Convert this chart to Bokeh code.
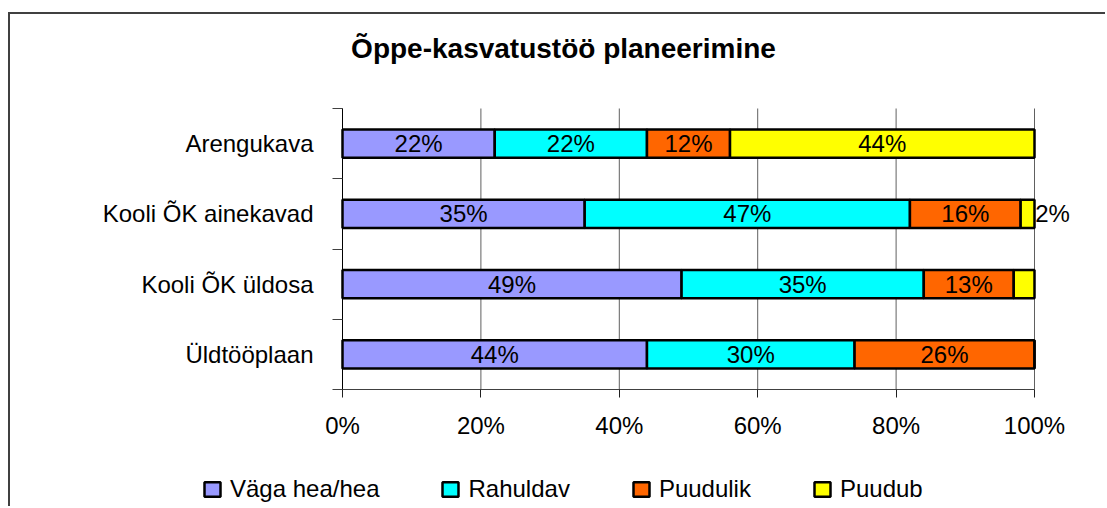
from bokeh.plotting import figure
from bokeh.models import (Range1d, FixedTicker, ColumnDataSource, LabelSet, Label,
                          Legend, LegendItem, PrintfTickFormatter)
from bokeh.core.properties import value
from bokeh.embed import file_html
from bokeh.resources import INLINE

# ---------------- data ----------------
title_text = "Õppe-kasvatustöö planeerimine"
categories = ["Arengukava", "Kooli ÕK ainekavad", "Kooli ÕK üldosa", "Üldtööplaan"]
series_names = ["Väga hea/hea", "Rahuldav", "Puudulik", "Puudub"]
vaga_hea = [22, 35, 49, 44]
rahuldav = [22, 47, 35, 30]
puudulik = [12, 16, 13, 26]
puudub = [44, 2, 3, 0]
vaga_hea_labels = ["22%", "35%", "49%", "44%"]
rahuldav_labels = ["22%", "47%", "35%", "30%"]
puudulik_labels = ["12%", "16%", "13%", "26%"]
puudub_labels = ["44%", "2%", "", ""]
x_ticks = [0, 20, 40, 60, 80, 100]

# ---------------- layout (pixels on the page) ----------------
CANVAS_L, CANVAS_T, CANVAS_W, CANVAS_H = 10, 14, 1097, 494
PLOT_L, PLOT_R, PLOT_T, PLOT_B = 342, 1034, 108, 389
TITLE_CX, TITLE_CY = 563, 48

colors = ["#9999FF", "#00FFFF", "#FF6600", "#FFFF00"]
FONT = "Liberation Sans"
FS = "24px"
keys = ["vaga", "rahuldav", "puudulik", "puudub"]
values = [vaga_hea, rahuldav, puudulik, puudub]
labels = [vaga_hea_labels, rahuldav_labels, puudulik_labels, puudub_labels]

n = len(categories)
xmax = x_ticks[-1]
ypos = [n - 0.5 - i for i in range(n)]
bounds = [float(i) for i in range(n + 1)]

xs = (PLOT_R - PLOT_L) / xmax          # px per x unit
ys = (PLOT_B - PLOT_T) / n             # px per y unit
x0 = (CANVAS_L - PLOT_L) / xs
x1 = (CANVAS_L + CANVAS_W - PLOT_L) / xs
y0 = -(CANVAS_T + CANVAS_H - PLOT_B) / ys
y1 = n + (PLOT_T - CANVAS_T) / ys

data = {"y": ypos}
for k, v in zip(keys, values):
    data[k] = v
source = ColumnDataSource(data)

p = figure(width=CANVAS_W, height=CANVAS_H, output_backend="svg", toolbar_location=None,
           x_range=Range1d(x0, x1), y_range=Range1d(y0, y1),
           min_border=0)
p.styles = {"margin-top": "12px", "margin-left": "8px",
            "border-top": "2px solid #404040", "border-left": "2px solid #404040"}
p.outline_line_color = None
p.background_fill_color = "white"
p.border_fill_color = "white"
p.xgrid.visible = False
p.ygrid.visible = False

# vertical gridlines inside the plot area
p.segment(x0=x_ticks, y0=[0] * len(x_ticks), x1=x_ticks, y1=[n] * len(x_ticks),
          line_color="#606060", line_width=1)

renderers = p.hbar_stack(keys, y="y", height=0.4, fill_color=colors, line_color="black",
                         line_width=2.5, source=source)

# label positions from cumulative sums
lx, ly, lt, lo = [], [], [], []
for ci in range(n):
    start = 0
    for si in range(len(keys)):
        v = values[si][ci]
        txt = labels[si][ci]
        if txt:
            lx.append(start + v / 2)
            ly.append(ypos[ci])
            lt.append(txt)
            lo.append(25 if v < 5 else 0)
        start += v
lab_src = ColumnDataSource(dict(x=lx, y=ly, text=lt, xo=lo))
p.add_layout(LabelSet(x="x", y="y", text="text", x_offset="xo", source=lab_src,
                      text_align="center", text_baseline="middle",
                      text_font=value(FONT), text_font_size=value(FS), text_color="black"))

# axes
xa = p.xaxis[0]
xa.fixed_location = 0
xa.ticker = FixedTicker(ticks=x_ticks, minor_ticks=[])
xa.bounds = (0, xmax)
xa.formatter = PrintfTickFormatter(format="%d%%")
xa.major_tick_out = 8
xa.major_tick_in = 0
xa.major_tick_line_color = "#202020"
xa.axis_line_color = "#404040"
xa.major_label_text_font = FONT
xa.major_label_text_font_size = FS
xa.major_label_text_color = "black"
xa.major_label_standoff = 14

ya = p.yaxis[0]
ya.fixed_location = 0
ya.ticker = FixedTicker(ticks=ypos, minor_ticks=bounds)
ya.bounds = (0, n)
ya.major_label_overrides = {y: c for y, c in zip(ypos, categories)}
ya.major_tick_out = 0
ya.major_tick_in = 0
ya.minor_tick_out = 10
ya.minor_tick_in = 0
ya.minor_tick_line_color = "#404040"
ya.axis_line_color = "black"
ya.major_label_text_font = FONT
ya.major_label_text_font_size = FS
ya.major_label_text_color = "black"
ya.major_label_standoff = 19

# title
p.add_layout(Label(x=(TITLE_CX - PLOT_L) / xs, y=n + (PLOT_T - TITLE_CY) / ys,
                   text=title_text, text_align="center", text_baseline="middle",
                   text_font=FONT, text_font_size="28px", text_font_style="bold",
                   text_color="black"))

# legend
legend = Legend(items=[LegendItem(label=s, renderers=[r]) for s, r in zip(series_names, renderers)],
                orientation="horizontal", location=(192, 5), spacing=61,
                glyph_width=20, glyph_height=18, label_standoff=8, padding=0, margin=0,
                label_text_font=FONT, label_text_font_size=FS, label_text_color="black",
                border_line_color=None, background_fill_alpha=0)
p.add_layout(legend)

open("out.html", "w").write(file_html(p, INLINE))
